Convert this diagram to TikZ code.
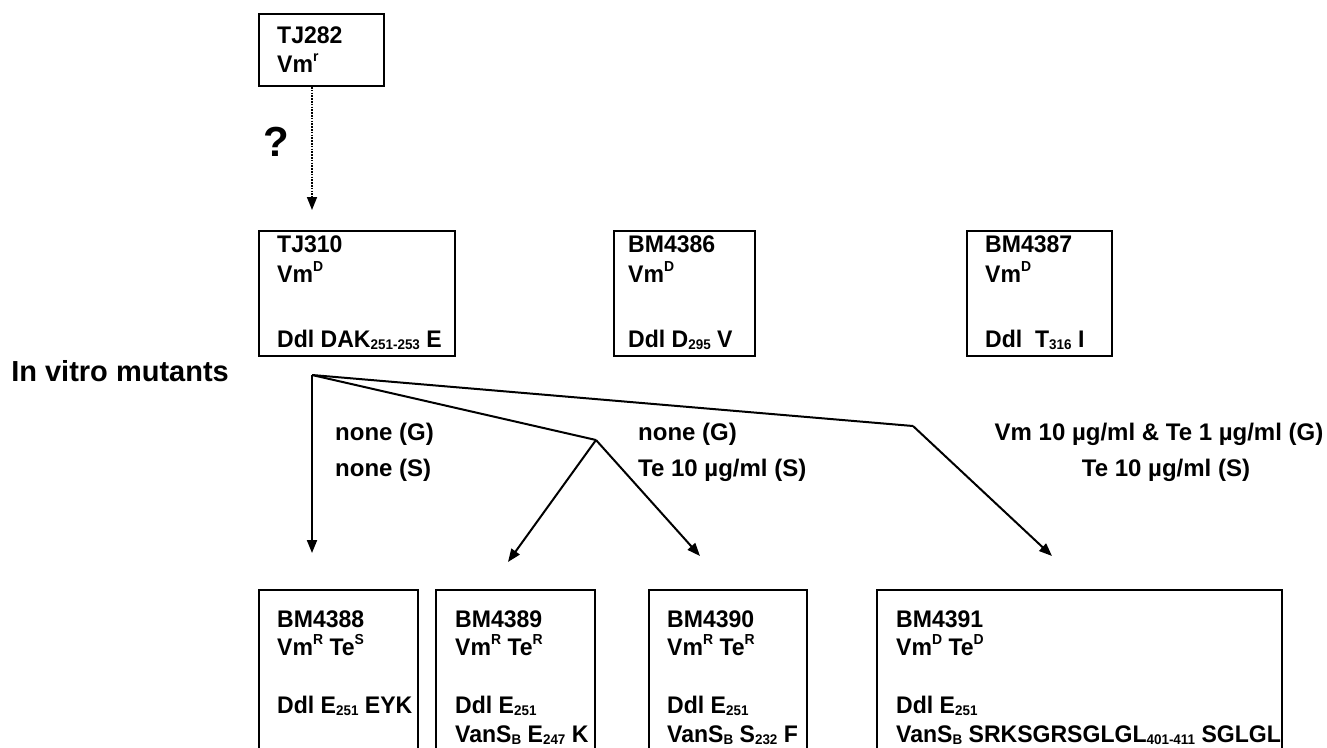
\documentclass[tikz,border=0pt]{standalone}
\usepackage{fontspec}
\setmainfont{Liberation Sans}
\newfontfamily\boxfont{Liberation Sans}[FakeStretch=0.96]
\usetikzlibrary{arrows.meta}
\newcommand\lowx[1]{\raisebox{-2.5pt}{\fontsize{14}{14}\selectfont #1}}
\newcommand\highx[1]{\raisebox{11pt}{\fontsize{14.5}{15}\selectfont #1}}
\tikzset{
  box/.style={draw, line width=2pt, inner sep=0pt, anchor=north west},
  openbox/.style={inner sep=0pt, anchor=north west},
  boxline/.style={line width=2pt, line join=miter},
  txt/.style={anchor=base west, inner sep=0pt, font=\boxfont\fontsize{24}{28}\selectfont\bfseries},
  ltxt/.style={anchor=base west, inner sep=0pt, font=\fontsize{24}{28}\selectfont\bfseries},
  ctxt/.style={anchor=base, inner sep=0pt, font=\fontsize{24}{28}\selectfont\bfseries},
  conn/.style={line width=2pt, line join=miter, -{Triangle[length=13pt,width=10pt]}},
  plain/.style={line width=2pt, line join=miter},
  dotarrow/.style={line width=1.6pt, dash pattern=on 1.6pt off 1.2pt, -{Triangle[length=13pt,width=10pt]}}
}
\begin{document}
\begin{tikzpicture}[x=1pt,y=-1pt]
\useasboundingbox (0,0) rectangle (1327,747);
% top box
\node[box, minimum width=125pt, minimum height=72pt] (tj282) at (258,13) {};
\node[txt] (tj282a) at (277,43) {TJ282};
\node[txt] (tj282b) at (277,72) {Vm\highx{r}};
% question
\node[inner sep=0pt, font=\fontsize{42}{42}\selectfont\bfseries] (qm) at (276,142) {?};
% middle row
\node[box, minimum width=196pt, minimum height=125pt] (tj310) at (258,230) {};
\node[txt] (tj310a) at (277,252) {TJ310};
\node[txt] (tj310b) at (277,282) {Vm\highx{D}};
\node[txt] (tj310c) at (277,347) {Ddl DAK\lowx{251-253} E};
\node[box, minimum width=141pt, minimum height=125pt] (bm86) at (613,230) {};
\node[txt] (bm86a) at (628,252) {BM4386};
\node[txt] (bm86b) at (628,282) {Vm\highx{D}};
\node[txt] (bm86c) at (628,347) {Ddl D\lowx{295} V};
\node[box, minimum width=145pt, minimum height=125pt] (bm87) at (966,230) {};
\node[txt] (bm87a) at (985,252) {BM4387};
\node[txt] (bm87b) at (985,282) {Vm\highx{D}};
\node[txt] (bm87c) at (985,347) {Ddl\ \ T\lowx{316} I};
% dotted arrow
\coordinate (q) at (312,210);
\draw[dotarrow] (tj282.south -| q) -- (q);
% in vitro label
\node[anchor=base east, inner sep=0pt, font=\fontsize{29}{32}\selectfont\bfseries] (iv) at (229,381) {In vitro mutants};
% bottom boxes (open at bottom)
\node[openbox, minimum width=159pt, minimum height=160pt] (b88) at (259,590) {};
\node[openbox, minimum width=159pt, minimum height=160pt] (b89) at (436,590) {};
\node[openbox, minimum width=158pt, minimum height=160pt] (b90) at (649,590) {};
\node[openbox, minimum width=405pt, minimum height=160pt] (b91) at (877,590) {};
\foreach \b in {b88,b89,b90,b91}{
  \draw[boxline] (\b.south west) |- (\b.north east) -- (\b.south east);
}
\node[txt] (b88a) at (277,627) {BM4388};
\node[txt] (b88b) at (277,655) {Vm\highx{R} Te\highx{S}};
\node[txt] (b88c) at (277,713) {Ddl E\lowx{251} EYK};
\node[txt] (b89a) at (455,627) {BM4389};
\node[txt] (b89b) at (455,655) {Vm\highx{R} Te\highx{R}};
\node[txt] (b89c) at (455,713) {Ddl E\lowx{251}};
\node[txt] (b89d) at (455,742) {VanS\lowx{B} E\lowx{247} K};
\node[txt] (b90a) at (667,627) {BM4390};
\node[txt] (b90b) at (667,655) {Vm\highx{R} Te\highx{R}};
\node[txt] (b90c) at (667,713) {Ddl E\lowx{251}};
\node[txt] (b90d) at (667,742) {VanS\lowx{B} S\lowx{232} F};
\node[txt] (b91a) at (896,627) {BM4391};
\node[txt] (b91b) at (896,655) {Vm\highx{D} Te\highx{D}};
\node[txt] (b91c) at (896,713) {Ddl E\lowx{251}};
\node[txt] (b91d) at (896,742) {VanS\lowx{B} SRKSGRSGLGL\lowx{401-411} SGLGL};
% branching connectors
\coordinate (o) at (312,375);
\coordinate (m) at (596,440);
\coordinate (f) at (913,426);
\coordinate (t1) at (312,553);
\coordinate (t2) at (508,562);
\coordinate (t3) at (700,556);
\coordinate (t4) at (1052,556);
\draw[conn] (o) -- (t1);
\draw[plain] (o) -- (m);
\draw[conn] (m) -- (t2);
\draw[conn] (m) -- (t3);
\draw[plain] (o) -- (f);
\draw[conn] (f) -- (t4);
% labels
\node[ltxt] (l1a) at (335,440) {none (G)};
\node[ltxt] (l1b) at (335,476) {none (S)};
\node[ltxt] (l2a) at (638,440) {none (G)};
\node[ltxt] (l2b) at (638,476) {Te 10 µg/ml (S)};
\node[ctxt] (l3a) at (1159,440) {Vm 10 µg/ml \& Te 1 µg/ml (G)};
\node[ctxt] (l3b) at (1166,476) {Te 10 µg/ml (S)};
\end{tikzpicture}
\end{document}
